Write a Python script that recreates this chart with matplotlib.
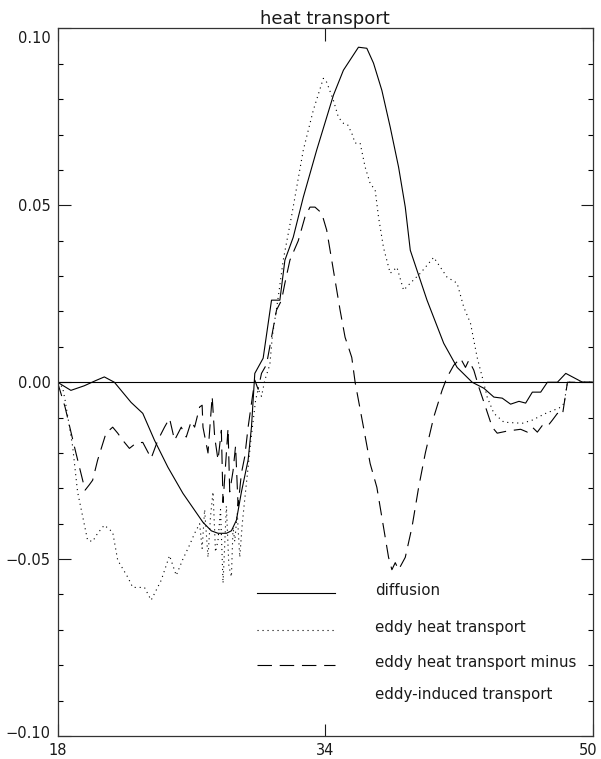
import matplotlib
matplotlib.use("Agg")
import matplotlib.pyplot as plt
import matplotlib.transforms as mtransforms
from matplotlib.ticker import MultipleLocator, FixedLocator

# -------------------- DATA --------------------
diff_x = [18, 18.8, 19.6, 20.3, 20.8, 21.4, 22.4, 23.1, 23.8, 24.6, 25.5, 26.7,
          27.2, 27.6, 28.1, 28.4, 28.7, 29.0, 29.4, 29.6, 29.8, 30.3, 30.8, 31.3,
          31.6, 32.1, 32.7, 33.5, 34.5, 35.1, 36.0, 36.5, 36.9, 37.4, 37.9, 38.4,
          38.8, 39.1, 40.1, 41.1, 41.9, 42.8, 43.5, 44.1, 44.6, 45.1, 45.6, 46.0,
          46.4, 46.9, 47.3, 47.9, 48.4, 49.4, 50]
diff_y = [0.0, -0.0023, -0.001, 0.0005, 0.0015, 0.0, -0.0057, -0.0088, -0.0164,
          -0.024, -0.0314, -0.0396, -0.042, -0.0427, -0.0427, -0.042, -0.039,
          -0.031, -0.022, -0.0127, 0.0025, 0.0068, 0.0232, 0.0232, 0.0345, 0.041,
          0.0523, 0.0656, 0.0811, 0.0882, 0.0947, 0.0944, 0.0902, 0.0825, 0.0721,
          0.0608, 0.0495, 0.0373, 0.0232, 0.011, 0.0042, 0.0, -0.0017, -0.0042,
          -0.0045, -0.0062, -0.0054, -0.0059, -0.0028, -0.0028, 0.0, 0.0, 0.0025,
          0.0, 0.0]

eddy_x = [18, 18.3, 18.45, 18.9, 19.2, 19.8, 20.1, 20.4, 20.8, 21.3, 21.6, 22.2,
          22.5, 23.2, 23.6, 24.2, 24.7, 25.1, 25.5, 25.9, 26.2, 26.5, 26.65, 26.8,
          27.0, 27.15, 27.3, 27.45, 27.6, 27.75, 27.9, 28.1, 28.25, 28.4, 28.5,
          28.6, 28.75, 28.9, 29.05, 29.2, 29.4, 29.55, 29.7, 29.85, 30.0, 30.2,
          30.4, 30.7, 30.85, 31.2, 31.5, 32.0, 32.7, 33.3, 33.9, 34.1, 34.5, 34.8,
          35.1, 35.35, 35.6, 35.8, 36.1, 36.4, 36.7, 37.0, 37.2, 37.5, 37.9, 38.3,
          38.7, 39.1, 39.7, 40.5, 41.3, 41.9, 42.3, 42.7, 43.1, 43.5, 43.7, 44.1,
          44.7, 45.8, 46.4, 47.2, 48.0, 48.3, 48.5, 50]
eddy_y = [0.0, -0.0014, -0.005, -0.018, -0.031, -0.0447, -0.045, -0.0427, -0.0404,
          -0.0424, -0.0503, -0.0551, -0.058, -0.058, -0.0616, -0.056, -0.049,
          -0.0546, -0.05, -0.046, -0.0427, -0.04, -0.047, -0.036, -0.0495, -0.038,
          -0.031, -0.048, -0.0447, -0.036, -0.0568, -0.035, -0.052, -0.055, -0.041,
          -0.045, -0.037, -0.0495, -0.04, -0.033, -0.024, -0.017, -0.011, -0.005,
          -0.002, -0.004, 0.0006, 0.005, 0.013, 0.024, 0.0345, 0.047, 0.0656,
          0.0769, 0.0859, 0.0848, 0.0797, 0.0749, 0.0732, 0.0728, 0.0704, 0.0676,
          0.0676, 0.0608, 0.0562, 0.0543, 0.0467, 0.038, 0.0308, 0.0325, 0.026,
          0.028, 0.0308, 0.0353, 0.0297, 0.028, 0.0212, 0.0167, 0.007, -0.0003,
          -0.0042, -0.0088, -0.0113, -0.0116, -0.0107, -0.0088, -0.0073, -0.006,
          0.0, 0.0]

minus_x = [18, 18.45, 19.05, 19.65, 19.9, 20.1, 20.4, 20.9, 21.3, 21.6, 21.9, 22.3,
           22.7, 23.1, 23.6, 24.0, 24.4, 24.7, 25.0, 25.4, 25.7, 26.0, 26.2, 26.5,
           26.65, 26.7, 27.0, 27.25, 27.4, 27.6, 27.8, 27.9, 28.1, 28.2, 28.3,
           28.5, 28.65, 28.8, 29.0, 29.2, 29.4, 29.6, 29.8, 30.0, 30.2, 30.5, 30.8,
           31.1, 31.4, 31.6, 31.9, 32.4, 32.8, 33.1, 33.4, 33.8, 34.1, 34.5, 34.9,
           35.2, 35.4, 35.6, 35.8, 36.3, 36.7, 37.1, 37.5, 37.8, 38.0, 38.2, 38.4,
           38.8, 39.2, 39.6, 40.0, 40.5, 41.0, 41.3, 41.7, 42.1, 42.4, 42.6, 42.9,
           43.2, 43.6, 44.0, 44.3, 44.9, 45.7, 46.1, 46.4, 46.7, 47.0, 47.3, 47.6,
           47.9, 48.2, 48.5, 50]
minus_y = [0.0, -0.007, -0.019, -0.0305, -0.029, -0.0277, -0.022, -0.0144, -0.0127,
           -0.0144, -0.0164, -0.0187, -0.0172, -0.017, -0.0215, -0.0164, -0.0127,
           -0.0102, -0.0164, -0.0127, -0.0155, -0.011, -0.0127, -0.007, -0.0065,
           -0.0127, -0.02, -0.004, -0.0155, -0.022, -0.0136, -0.034, -0.02, -0.013,
           -0.031, -0.025, -0.018, -0.035, -0.0257, -0.021, -0.0127, -0.006, 0.0006,
           -0.002, 0.0025, 0.005, 0.0127, 0.0204, 0.0232, 0.028, 0.0345, 0.04,
           0.0467, 0.0495, 0.0495, 0.0478, 0.043, 0.0317, 0.0204, 0.0127, 0.0099,
           0.007, 0.0, -0.0127, -0.023, -0.0297, -0.041, -0.0495, -0.053, -0.051,
           -0.053, -0.0495, -0.041, -0.0297, -0.02, -0.0099, -0.0023, 0.0014,
           0.0048, 0.0068, 0.0042, 0.0062, 0.0034, -0.0014, -0.007, -0.0127,
           -0.0144, -0.0138, -0.0133, -0.0141, -0.0127, -0.0141, -0.0122, -0.0125,
           -0.0107, -0.0088, -0.0093, 0.0, 0.0]

legend_labels = ["diffusion", "eddy heat transport", "eddy heat transport minus",
                 "eddy-induced transport"]
x_ticks = [18, 34, 50]
y_ticks = [-0.10, -0.05, 0.00, 0.05, 0.10]

# -------------------- PLOT --------------------
plt.rcParams['font.family'] = ['DejaVu Sans']
fig = plt.figure(figsize=(6.01, 7.59), dpi=100)
ax = fig.add_axes([0.0957, 0.0303, 0.8902, 0.9322])

lw = 0.8
ink = '#1a1a1a'
solid = dict(color='black', lw=lw, linestyle='-')
dotted = dict(color='black', lw=lw, linestyle=(0, (1, 3.5)))
dashed = dict(color='black', lw=lw, linestyle=(0, (13, 7)))

ax.axhline(0, color='black', lw=lw)
ax.plot(diff_x, diff_y, **solid)
ax.plot(eddy_x, eddy_y, **dotted)
ax.plot(minus_x, minus_y, **dashed)

# hand-drawn legend inside the axes
leg_y = [-0.0596, -0.0701, -0.0800, -0.0890]
for style, yy in zip([solid, dotted, dashed], leg_y):
    ax.plot([29.93, 34.6], [yy, yy], **style)
for label, yy in zip(legend_labels, leg_y):
    ax.text(37.0, yy + 0.0008, label, fontsize=10.8, va='center', ha='left',
            color=ink)

ax.set_xlim(18, 50)
ax.set_ylim(-0.10, 0.10)
ax.xaxis.set_major_locator(FixedLocator(x_ticks))
ax.set_xticklabels([str(t) for t in x_ticks])
ax.yaxis.set_major_locator(FixedLocator(y_ticks))
ax.set_yticklabels(["%.2f" % t if t >= 0 else "\u2212%.2f" % -t for t in y_ticks])
ax.yaxis.set_minor_locator(MultipleLocator(0.01))

ax.tick_params(axis='both', which='major', direction='in', length=9, width=0.8,
               top=True, right=True, labelsize=10.5, colors=ink, pad=5)
ax.tick_params(axis='y', which='minor', direction='in', length=3.5, width=0.8,
               left=True, right=True)
for sp in ax.spines.values():
    sp.set_linewidth(0.9)
    sp.set_color('#333333')

# end labels sit just inside the axis range
ylabels = ax.get_yticklabels()
down = mtransforms.ScaledTranslation(0, -6 / 72, fig.dpi_scale_trans)
up = mtransforms.ScaledTranslation(0, 3 / 72, fig.dpi_scale_trans)
ylabels[-1].set_transform(ylabels[-1].get_transform() + down)
ylabels[0].set_transform(ylabels[0].get_transform() + up)
xlabels = ax.get_xticklabels()
xlabels[-1].set_transform(xlabels[-1].get_transform() +
                          mtransforms.ScaledTranslation(-3 / 72, 0, fig.dpi_scale_trans))

ax.set_title("heat transport", fontsize=13, color=ink, pad=3.5)

fig.savefig("out.png", dpi=100)
